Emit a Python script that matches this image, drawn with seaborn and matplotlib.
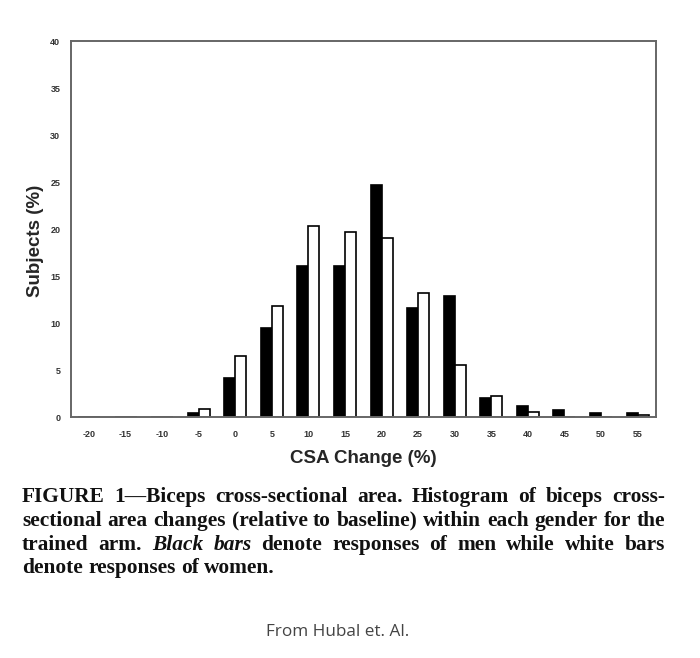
import pandas as pd
import matplotlib
matplotlib.use('Agg')
import matplotlib.pyplot as plt
import seaborn as sns

# Du lieu doc tu hinh
csa_change = ['-20', '-15', '-10', '-5', '0', '5', '10', '15', '20', '25', '30', '35', '40', '45', '50', '55']
men = [0, 0, 0, 0.4, 4.2, 9.5, 16.1, 16.1, 24.7, 11.6, 12.9, 2.05, 1.2, 0.8, 0.4, 0.4]
women = [0, 0, 0, 0.85, 6.5, 11.8, 20.3, 19.7, 19.1, 13.2, 5.6, 2.3, 0.6, 0, 0, 0.2]
y_ticks = [0, 5, 10, 15, 20, 25, 30, 35, 40]

# dau * danh dau tu in nghieng
caption_lines = [
    'FIGURE 1\u2014Biceps cross-sectional area. Histogram of biceps cross-',
    'sectional area changes (relative to baseline) within each gender for the',
    'trained arm. *Black *bars denote responses of men while white bars',
    'denote responses of women.',
]
source_text = 'From Hubal et. Al.'


def build_frame():
    rows = []
    for i, c in enumerate(csa_change):
        rows.append({'csa': c, 'group': 'Men', 'pct': men[i]})
        rows.append({'csa': c, 'group': 'Women', 'pct': women[i]})
    return pd.DataFrame(rows)


def word_width(fig, renderer, s, size, style='normal'):
    t = fig.text(0, 0, s, fontsize=size, fontweight='bold', style=style, family='Liberation Serif')
    w = t.get_window_extent(renderer).width
    t.remove()
    return w


def line_width(fig, renderer, line, size):
    w = 0
    for word in line.split(' '):
        style = 'italic' if word.startswith('*') else 'normal'
        w += word_width(fig, renderer, word.lstrip('*'), size, style)
    sw = word_width(fig, renderer, 'a a', size) - 2 * word_width(fig, renderer, 'a', size)
    return w + sw * (len(line.split(' ')) - 1)


def draw_caption(fig, lines, x_left, x_right, y_start, step, size):
    """Ve chu thich can deu hai ben (justify)."""
    renderer = fig.canvas.get_renderer()
    W, H = fig.bbox.width, fig.bbox.height
    sw = word_width(fig, renderer, 'a a', size) - 2 * word_width(fig, renderer, 'a', size)
    for li, line in enumerate(lines):
        y = y_start + li * step
        words = line.split(' ')
        texts = []
        for w in words:
            style = 'normal'
            if w.startswith('*'):
                w = w[1:]
                style = 'italic'
            t = fig.text(0, 1 - y / H, w, fontsize=size, fontweight='bold', style=style,
                         family='Liberation Serif', va='center', ha='left', color='#111111')
            texts.append(t)
        widths = [t.get_window_extent(renderer).width for t in texts]
        if li < len(lines) - 1:
            gap = (x_right - x_left - sum(widths)) / (len(words) - 1)
        else:
            gap = sw
        x = x_left
        for t, w in zip(texts, widths):
            t.set_x(x / W)
            x += w + gap


def main():
    sns.set_style('white')
    df = build_frame()

    fig = plt.figure(figsize=(7, 6.58), dpi=100)
    ax = fig.add_axes([0.101, 0.366, 0.836, 0.571])

    sns.barplot(data=df, x='csa', y='pct', hue='group', order=csa_change,
                palette={'Men': 'black', 'Women': 'white'}, edgecolor='black',
                linewidth=1.2, width=0.6, gap=0, legend=False, ax=ax)

    ax.set_xlim(-0.5, len(csa_change) - 0.5)
    ax.set_ylim(0, 40)
    ax.set_yticks(y_ticks)
    ax.set_yticklabels([str(v) for v in y_ticks])

    # Vach chia nho giua cac nhom
    ax.set_xticks([i + 0.5 for i in range(-1, len(csa_change))], minor=True)
    ax.tick_params(axis='x', which='major', length=0, pad=9)
    ax.tick_params(axis='x', which='minor', length=2.5, width=0.8, color='#777777', direction='out')
    ax.tick_params(axis='y', length=2.5, width=0.8, color='#777777', direction='out', pad=5)
    for lab in ax.get_xticklabels() + ax.get_yticklabels():
        lab.set_fontsize(6.5)
        lab.set_fontweight('bold')
        lab.set_family('Liberation Sans')
        lab.set_color('#333333')

    for s in ax.spines.values():
        s.set_visible(True)
        s.set_color('#666666')
        s.set_linewidth(1.4)

    ax.set_xlabel('CSA Change (%)', fontsize=13.5, fontweight='bold', family='Liberation Sans', labelpad=8)
    ax.set_ylabel('Subjects (%)', fontsize=13.5, fontweight='bold', family='Liberation Sans')
    ax.yaxis.set_label_coords(-0.046, 0.47)
    ax.grid(False)

    fig.canvas.draw()
    renderer = fig.canvas.get_renderer()
    # co chu: dong cuoi dai ~259 px, nhung khong dong nao vuot qua be rong 643 px
    base = 12.0
    size = base * 259 / line_width(fig, renderer, caption_lines[3], base)
    widest = max(line_width(fig, renderer, ln, base) for ln in caption_lines[:3])
    size = min(size, base * 636 / widest)
    draw_caption(fig, caption_lines, 22, 665, 497, 23.8, size)

    fig.text(338 / 700, 1 - 632 / 658, source_text, fontsize=12.3, family='Open Sans',
             color='#444444', ha='center', va='center')

    fig.savefig('out.png', dpi=100)
    plt.close()


if __name__ == '__main__':
    main()
